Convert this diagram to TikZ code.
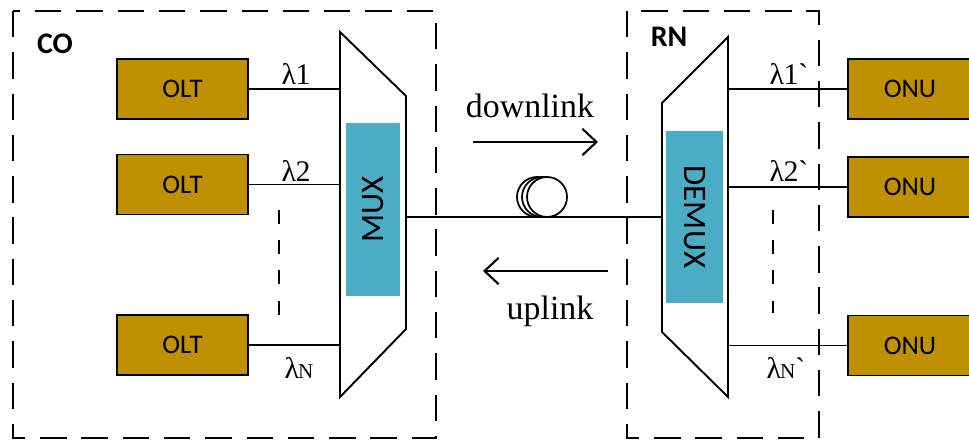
\documentclass[tikz,border=0pt]{standalone}
\usepackage{fontspec}
\setmainfont{Liberation Serif}
\newfontfamily\calibri{Carlito}
\usetikzlibrary{arrows.meta,positioning}
\definecolor{oltgold}{HTML}{BF9000}
\definecolor{muxblue}{HTML}{4BACC6}
\newcommand{\lam}[1]{\fontsize{17}{20}\selectfont λ\kern-0.3pt\raisebox{-0.4pt}{#1}}
\newcommand{\lamN}{\fontsize{17}{20}\selectfont λ\kern-0.6pt{\fontsize{12}{14}\selectfont N}}
\tikzset{
  group/.style={line width=1.6pt,dash pattern=on 15pt off 8.5pt},
  grouplabel/.style={font=\calibri\bfseries\fontsize{17}{20}\selectfont},
  unit/.style={draw,line width=1.1pt,fill=oltgold,minimum width=2.62cm,minimum height=1.2cm,inner sep=0pt,font=\calibri\fontsize{15.3}{18}\selectfont},
  filter/.style={fill=muxblue,inner sep=0pt,font=\calibri\fontsize{18.7}{22}\selectfont},
  trap/.style={line width=1.1pt},
  link/.style={line width=1.1pt},
  dots/.style={line width=1.6pt,dash pattern=on 8pt off 9.2pt},
  wave/.style={inner sep=0pt},
  dirlabel/.style={font=\fontsize{19.3}{22}\selectfont},
  dir/.style={line width=1.2pt,-{Straight Barb[length=8pt,width=15pt,line width=1.2pt]}}
}
\begin{document}
\begin{tikzpicture}[x=0.02cm,y=-0.02cm]
\useasboundingbox (0,0) rectangle (969,442);

% central office
\draw[group] (13,11) rectangle (436,438);
\node[grouplabel] (co) at (55,44) {CO};

\node[unit] (olt1) at (182.5,89) {OLT};
\node[unit] (olt2) at (182.5,184.5) {OLT};
\node[unit] (olt3) at (182.5,345) {OLT};

\coordinate (mux-nw) at (340,32);
\coordinate (mux-ne) at (406,96);
\coordinate (mux-se) at (406,329);
\coordinate (mux-sw) at (340,397);
\draw[trap] (mux-nw) -- (mux-ne) -- (mux-se) -- (mux-sw) -- cycle;
\node[filter,rotate=90,minimum width=3.46cm,minimum height=1.08cm] (mux) at (373,209.5) {MUX};

\draw[link] (olt1.east) -- (olt1.east -| mux-nw);
\draw[link] (olt2.east) -- (olt2.east -| mux-nw);
\draw[link] (olt3.east) -- (olt3.east -| mux-nw);
\draw[dots] (279,210) -- (279,315);

\node[wave] (l1) at (296,74) {\lam{1}};
\node[wave] (l2) at (296,171) {\lam{2}};
\node[wave] (lN) at (299,368) {\lamN};

% remote node
\draw[group] (627,11) rectangle (819,438);
\node[grouplabel] (rn) at (669,37) {RN};

\coordinate (demux-ne) at (728,37);
\coordinate (demux-nw) at (662,103);
\coordinate (demux-sw) at (662,332);
\coordinate (demux-se) at (728,397);
\draw[trap] (demux-ne) -- (demux-nw) -- (demux-sw) -- (demux-se) -- cycle;
\node[filter,rotate=-90,minimum width=3.44cm,minimum height=1.14cm] (demux) at (694.5,217) {DEMUX};

\node[unit,minimum width=2.48cm] (onu1) at (910,89) {ONU};
\node[unit,minimum width=2.48cm] (onu2) at (910,187) {ONU};
\node[unit,minimum width=2.48cm] (onu3) at (910,345.5) {ONU};

\draw[link] (onu1.west -| demux-ne) -- (onu1.west);
\draw[link] (onu2.west -| demux-ne) -- (onu2.west);
\draw[link] (onu3.west -| demux-ne) -- (onu3.west);
\draw[dots] (773,210) -- (773,313);

\node[wave] (r1) at (789,74) {\lam{1}\textasciigrave};
\node[wave] (r2) at (789,171) {\lam{2}\textasciigrave};
\node[wave] (rN) at (786,368) {\lamN\textasciigrave};

% fibre
\coordinate (mux-out) at (406,217);
\coordinate (demux-in) at (662,217);
\draw[link] (mux-out) -- (demux-in);
\foreach \cx in {537,542,547}
  \draw[line width=1pt,fill=white] (\cx,197) circle (20);

\node[dirlabel] (down) at (530,106) {downlink};
\coordinate (down-a) at (473,142);
\coordinate (down-b) at (598,142);
\draw[dir] (down-a) -- (down-b);

\coordinate (up-a) at (608,271);
\coordinate (up-b) at (483,271);
\draw[dir] (up-a) -- (up-b);
\node[dirlabel] (up) at (550,311) {uplink};

\end{tikzpicture}
\end{document}
